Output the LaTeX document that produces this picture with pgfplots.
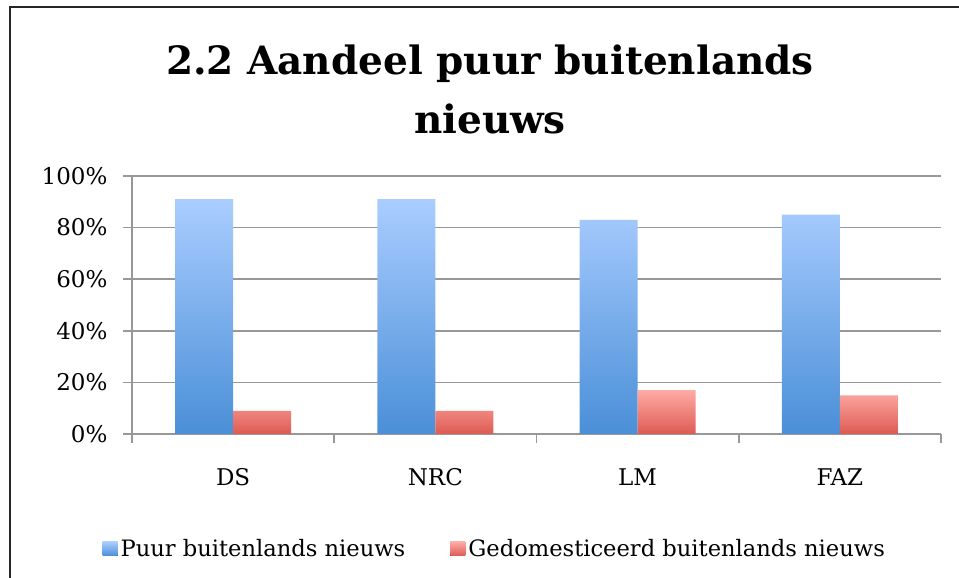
\documentclass[border=0pt]{standalone}
\usepackage{pgfplots}
\pgfplotsset{compat=1.18}
\usepackage{fontspec}
\setmainfont{DejaVu Serif}
\definecolor{bluetop}{HTML}{AACDFF}
\definecolor{bluebot}{HTML}{4A8FD8}
\definecolor{redtop}{HTML}{FFABA6}
\definecolor{redbot}{HTML}{DD5B52}
\definecolor{gridgray}{HTML}{989898}
\pgfplotstableread{
x puur gedom
0 91 9
1 91 9
2 83 17
3 85 15
}\datatable
\begin{document}
\begin{tikzpicture}
\useasboundingbox (0pt,0pt) rectangle (959pt,578pt);
\draw[line width=2pt,black!85] (10pt,-5pt) -- (10pt,571pt) -- (970pt,571pt);
\node[font=\fontsize{39}{46}\selectfont\bfseries,anchor=base] at (490pt,503pt) {2.2 Aandeel puur buitenlands};
\node[font=\fontsize{39}{46}\selectfont\bfseries,anchor=base] at (490pt,444pt) {nieuws};
\begin{axis}[
  at={(132pt,144pt)}, anchor=south west,
  scale only axis, width=809pt, height=258pt,
  ybar=0pt, bar width=58pt,
  xmin=-0.5, xmax=3.5, ymin=0, ymax=100,
  axis x line=bottom, axis y line=left,
  axis line style={gridgray, line width=1.6pt, -},
  xtick={0,1,2,3}, xticklabels={DS,NRC,LM,FAZ},
  major x tick style={draw=none},
  minor xtick={-0.5,0.5,1.5,2.5,3.5},
  minor x tick style={gridgray, line width=1.6pt},
  minor tick length=9pt,
  tick align=outside,
  ytick={0,20,40,60,80,100},
  yticklabels={0\%,20\%,40\%,60\%,80\%,100\%},
  major tick length=9pt,
  y tick style={gridgray, line width=1.6pt},
  ymajorgrids, grid style={gridgray, line width=1.6pt},
  tick label style={font=\fontsize{23}{28}\selectfont, text=black},
  xticklabel style={yshift=-22pt},
  yticklabel style={xshift=-12pt},
  legend columns=2,
  legend style={at={(0.449,-0.445)}, anchor=center, draw=none,
    font=\fontsize{22.6}{27}\selectfont,
    /tikz/every even column/.append style={column sep=42pt},
    nodes={inner sep=3pt}},
  legend image code/.code={\fill[#1] (0pt,-7pt) rectangle (15pt,7pt);},
  clip=false,
]
\addplot[draw=none, top color=bluetop, bottom color=bluebot] table[x=x,y=puur] {\datatable};
\addlegendentry{Puur buitenlands nieuws}
\addplot[draw=none, top color=redtop, bottom color=redbot] table[x=x,y=gedom] {\datatable};
\addlegendentry{Gedomesticeerd buitenlands nieuws}
\end{axis}
\end{tikzpicture}
\end{document}
